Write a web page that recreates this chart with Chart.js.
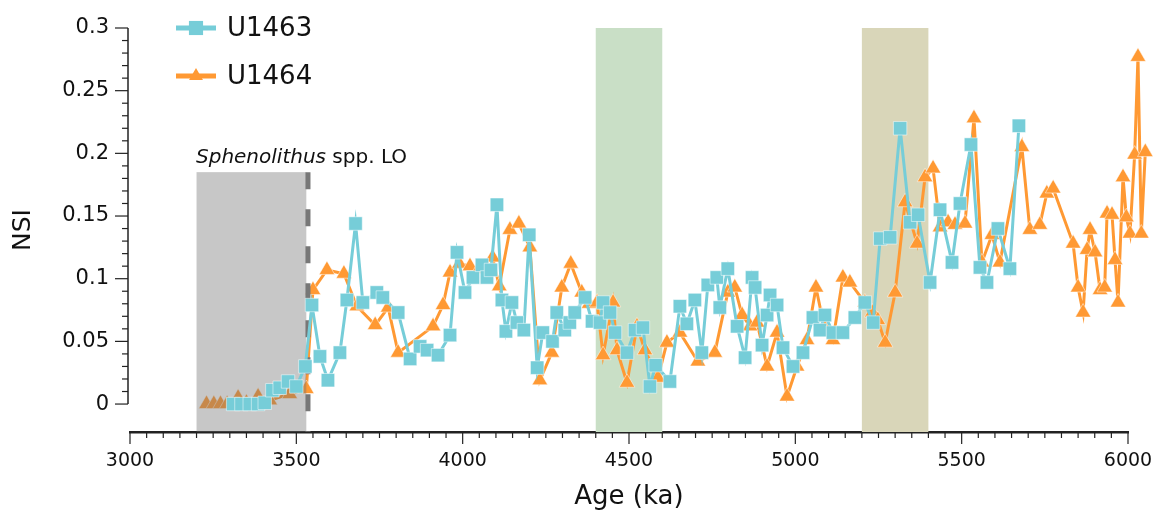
<!DOCTYPE html>
<html lang="en">
  <head>
    <meta charset="utf-8" />
    <title>NSI U1463 / U1464</title>
    <style>
      body { margin: 0; background: #fff; }
    </style>
  </head>
  <body>
    <canvas id="nsiChart" width="1155" height="515"></canvas>
    <script src="https://cdn.jsdelivr.net/npm/chart.js@4.4.1/dist/chart.umd.min.js"></script>
    <script>
      // Site U1463 (cyan squares)
      const u1463Age = [
        3310, 3335, 3360, 3385, 3405, 3428, 3450, 3475, 3500, 3527,
        3547, 3571, 3595, 3631, 3652, 3678, 3700, 3742, 3760, 3806,
        3842, 3872, 3893, 3926, 3962, 3983, 4007, 4031, 4058, 4073,
        4085, 4103, 4118, 4130, 4148, 4163, 4184, 4200, 4224, 4241,
        4270, 4283, 4307, 4322, 4337, 4368, 4389, 4413, 4422, 4443,
        4458, 4494, 4518, 4542, 4563, 4580, 4623, 4653, 4674, 4698,
        4719, 4737, 4764, 4773, 4797, 4825, 4849, 4870, 4879, 4900,
        4915, 4924, 4945, 4963, 4993, 5023, 5053, 5074, 5089, 5113,
        5143, 5179, 5209, 5234, 5255, 5285, 5315, 5345, 5369, 5405,
        5435, 5471, 5495, 5528, 5555, 5576, 5609, 5645, 5672
      ];
      const u1463Nsi = [
        0.000, 0.000, 0.000, 0.000, 0.001, 0.011, 0.013, 0.018, 0.014, 0.030,
        0.079, 0.038, 0.019, 0.041, 0.083, 0.144, 0.081, 0.089, 0.085, 0.073,
        0.036, 0.046, 0.043, 0.039, 0.055, 0.121, 0.089, 0.101, 0.111, 0.101,
        0.107, 0.159, 0.083, 0.058, 0.081, 0.065, 0.059, 0.135, 0.029, 0.057,
        0.050, 0.073, 0.059, 0.065, 0.073, 0.085, 0.066, 0.065, 0.081, 0.073,
        0.057, 0.041, 0.059, 0.061, 0.014, 0.031, 0.018, 0.078, 0.064, 0.083,
        0.041, 0.095, 0.101, 0.077, 0.108, 0.062, 0.037, 0.101, 0.093, 0.047,
        0.071, 0.087, 0.079, 0.045, 0.030, 0.041, 0.069, 0.059, 0.071, 0.057,
        0.057, 0.069, 0.081, 0.065, 0.132, 0.133, 0.220, 0.145, 0.151, 0.097,
        0.155, 0.113, 0.160, 0.207, 0.109, 0.097, 0.140, 0.108, 0.222
      ];

      // Site U1464 (orange triangles)
      const u1464Age = [
        3230, 3252, 3272, 3292, 3325, 3350, 3385, 3420, 3480, 3530,
        3550, 3592, 3643, 3682, 3737, 3776, 3806, 3911, 3941, 3962,
        3990, 4022, 4050, 4090, 4110, 4142, 4169, 4202, 4232, 4268,
        4298, 4325, 4358, 4380, 4404, 4422, 4452, 4464, 4494, 4524,
        4548, 4587, 4614, 4653, 4707, 4758, 4797, 4818, 4840, 4864,
        4885, 4915, 4945, 4975, 5005, 5035, 5062, 5080, 5113, 5143,
        5164, 5209, 5231, 5248, 5270, 5300, 5330, 5366, 5390, 5414,
        5435, 5459, 5480, 5510, 5537, 5561, 5591, 5615, 5681, 5705,
        5735, 5756, 5775, 5835, 5850, 5865, 5877, 5886, 5901, 5916,
        5930, 5937, 5952, 5961, 5970, 5985, 5995, 6006, 6020, 6030,
        6040, 6052
      ];
      const u1464Nsi = [
        0.000, 0.000, 0.000, 0.000, 0.005, 0.001, 0.006, 0.003, 0.008, 0.012,
        0.091, 0.107, 0.104, 0.078, 0.063, 0.077, 0.041, 0.062, 0.079, 0.105,
        0.112, 0.110, 0.108, 0.117, 0.094, 0.139, 0.144, 0.125, 0.019, 0.041,
        0.093, 0.112, 0.089, 0.080, 0.081, 0.039, 0.081, 0.043, 0.017, 0.062,
        0.043, 0.021, 0.049, 0.057, 0.034, 0.041, 0.089, 0.093, 0.071, 0.062,
        0.065, 0.030, 0.057, 0.006, 0.030, 0.051, 0.093, 0.070, 0.051, 0.101,
        0.097, 0.081, 0.073, 0.067, 0.049, 0.089, 0.161, 0.128, 0.181, 0.188,
        0.141, 0.145, 0.143, 0.144, 0.228, 0.113, 0.135, 0.113, 0.205, 0.139,
        0.143, 0.168, 0.172, 0.128, 0.093, 0.073, 0.123, 0.139, 0.121, 0.091,
        0.093, 0.152, 0.151, 0.115, 0.081, 0.181, 0.149, 0.136, 0.199, 0.277,
        0.136, 0.201
      ];

      // axis range and tick labels
      const ageRange = [3000, 6000];
      const xTickLabels = [3000, 3500, 4000, 4500, 5000, 5500, 6000];
      const yTickLabels = [0, 0.05, 0.1, 0.15, 0.2, 0.25, 0.3];

      // shaded intervals (ka) and the Sphenolithus LO marker
      const intervalBands = [[4400, 4600], [5200, 5400]];
      const intervalColors = ['#c9dfc6', '#d9d6b9'];
      const loBand = [3200, 3530];
      const loBandTop = 0.185;
      const loAge = 3535;

      const cyan = '#76cdd8';
      const orange = '#ff9933';
      const fontFamily = '"DejaVu Sans", "Liberation Sans", Arial, sans-serif';

      let savedRight;
      const decorations = {
        id: 'decorations',
        beforeDatasetsDraw(chart) {
          const { ctx, chartArea, scales: { x } } = chart;
          ctx.save();
          intervalBands.forEach(([a, b], i) => {
            const x0 = x.getPixelForValue(a);
            const x1 = x.getPixelForValue(b);
            ctx.fillStyle = intervalColors[i];
            ctx.fillRect(x0, chartArea.top, x1 - x0, chartArea.bottom - chartArea.top);
          });
          ctx.restore();
          // let the markers past 6000 ka be drawn too
          savedRight = chartArea.right;
          chartArea.right = chart.width;
        },
        afterDatasetsDraw(chart) {
          chart.chartArea.right = savedRight;
        },
        afterDatasetDraw(chart, args) {
          // gray LO band goes over U1464 but under U1463
          if (args.index !== 1) return;
          const { ctx, chartArea, scales: { x, y } } = chart;
          const x0 = x.getPixelForValue(loBand[0]);
          const x1 = x.getPixelForValue(loBand[1]);
          const top = y.getPixelForValue(loBandTop);
          ctx.save();
          ctx.fillStyle = 'rgba(112, 112, 112, 0.39)';
          ctx.fillRect(x0, top, x1 - x0, chartArea.bottom - top);
          const lx = x.getPixelForValue(loAge);
          ctx.strokeStyle = '#777';
          ctx.lineWidth = 5;
          ctx.setLineDash([17, 20]);
          ctx.beginPath();
          ctx.moveTo(lx, top);
          ctx.lineTo(lx, chartArea.bottom);
          ctx.stroke();
          ctx.restore();
        },
        afterDraw(chart) {
          const { ctx, chartArea, scales: { x, y } } = chart;
          ctx.save();
          ctx.strokeStyle = '#222';
          ctx.lineWidth = 1.2;

          // x tick marks
          x.ticks.forEach((t) => {
            const px = x.getPixelForValue(t.value);
            const len = t.value % 500 === 0 ? 12 : 6;
            ctx.beginPath();
            ctx.moveTo(px, chartArea.bottom);
            ctx.lineTo(px, chartArea.bottom + len);
            ctx.stroke();
          });

          // y axis line only from 0 to 0.3, with tick marks
          const ax = chartArea.left - 2;
          ctx.lineWidth = 1.5;
          ctx.beginPath();
          ctx.moveTo(ax, y.getPixelForValue(0));
          ctx.lineTo(ax, y.getPixelForValue(0.3));
          ctx.stroke();
          ctx.lineWidth = 1.2;
          y.ticks.forEach((t) => {
            const py = y.getPixelForValue(t.value);
            const major = t.label !== '';
            ctx.beginPath();
            ctx.moveTo(ax, py);
            ctx.lineTo(ax - (major ? 13 : 6), py);
            ctx.stroke();
          });

          // legend
          ctx.font = '26px ' + fontFamily;
          ctx.textBaseline = 'middle';
          ctx.textAlign = 'left';
          chart.data.datasets.forEach((ds, i) => {
            const ly = 28 + i * 48;
            ctx.strokeStyle = ds.borderColor;
            ctx.lineWidth = 5;
            ctx.beginPath();
            ctx.moveTo(176, ly);
            ctx.lineTo(216, ly);
            ctx.stroke();
            ctx.fillStyle = ds.pointBackgroundColor;
            Chart.helpers.drawPoint(ctx, {
              pointStyle: ds.pointStyle,
              radius: ds.pointStyle === 'rect' ? 10 : 8,
              rotation: 0,
              borderWidth: 0,
            }, 196, ly);
            ctx.fillStyle = '#111';
            ctx.fillText(ds.label, 227, ly + 1);
          });

          // LO annotation
          ctx.textBaseline = 'alphabetic';
          ctx.fillStyle = '#111';
          ctx.font = 'italic 20px ' + fontFamily;
          const italicPart = 'Sphenolithus';
          ctx.fillText(italicPart, 196, 163);
          const w = ctx.measureText(italicPart).width;
          ctx.font = '20px ' + fontFamily;
          ctx.fillText(' spp. LO', 196 + w, 163);
          ctx.restore();
        },
      };

      const ctx = document.getElementById('nsiChart');
      new Chart(ctx, {
        type: 'line',
        data: {
          datasets: [
            {
              label: 'U1463',
              data: u1463Age.map((a, i) => ({ x: a, y: u1463Nsi[i] })),
              borderColor: cyan,
              borderWidth: 3,
              pointStyle: 'rect',
              pointRadius: 9.5,
              pointBackgroundColor: cyan,
              pointBorderColor: 'rgba(255,255,255,0.5)',
              pointBorderWidth: 1,
              order: 0,
              clip: false,
            },
            {
              label: 'U1464',
              data: u1464Age.map((a, i) => ({ x: a, y: u1464Nsi[i] })),
              borderColor: orange,
              borderWidth: 3,
              pointStyle: 'triangle',
              pointRadius: 9,
              pointBackgroundColor: orange,
              pointBorderColor: 'rgba(255,255,255,0.5)',
              pointBorderWidth: 1,
              order: 1,
              clip: false,
            },
          ],
        },
        options: {
          responsive: false,
          animation: false,
          devicePixelRatio: 1,
          layout: { padding: { top: 28, right: 27, left: 0, bottom: 0 } },
          plugins: { legend: { display: false }, tooltip: { enabled: false } },
          scales: {
            x: {
              type: 'linear',
              bounds: 'data',
              // range set here (not via min/max) so points past 6000 ka still draw
              afterDataLimits: (scale) => {
                scale.min = ageRange[0];
                scale.max = ageRange[1];
              },
              afterBuildTicks: (scale) => {
                const ticks = [];
                for (let v = ageRange[0]; v <= ageRange[1]; v += 50) ticks.push({ value: v });
                scale.ticks = ticks;
              },
              afterFit: (scale) => {
                scale.height = 83;
                scale.paddingLeft = 0;
                scale.paddingRight = 0;
              },
              grid: { display: false, drawTicks: false },
              border: { display: true, color: '#222', width: 2.5 },
              ticks: {
                autoSkip: false,
                maxRotation: 0,
                padding: 18,
                color: '#111',
                font: { family: fontFamily, size: 19 },
                callback: (v) => (xTickLabels.includes(v) ? String(v) : ''),
              },
              title: {
                display: true,
                text: 'Age (ka)',
                color: '#111',
                font: { family: fontFamily, size: 26 },
                padding: { top: 0, bottom: 2 },
              },
            },
            y: {
              min: -0.0223,
              max: 0.3,
              afterBuildTicks: (scale) => {
                const ticks = [];
                for (let i = 0; i <= 30; i++) ticks.push({ value: i / 100 });
                scale.ticks = ticks;
              },
              afterFit: (scale) => {
                scale.width = 130;
                scale.paddingTop = 0;
                scale.paddingBottom = 0;
              },
              grid: { display: false, drawTicks: false },
              border: { display: false },
              ticks: {
                autoSkip: false,
                padding: 21,
                color: '#111',
                font: { family: fontFamily, size: 21 },
                callback: (v) => {
                  const hit = yTickLabels.find((t) => Math.abs(t - v) < 1e-6);
                  return hit === undefined ? '' : String(hit);
                },
              },
              title: {
                display: true,
                text: 'NSI',
                color: '#111',
                font: { family: fontFamily, size: 25 },
                padding: { top: 8, bottom: 0 },
              },
            },
          },
        },
        plugins: [decorations],
      });
    </script>
  </body>
</html>
